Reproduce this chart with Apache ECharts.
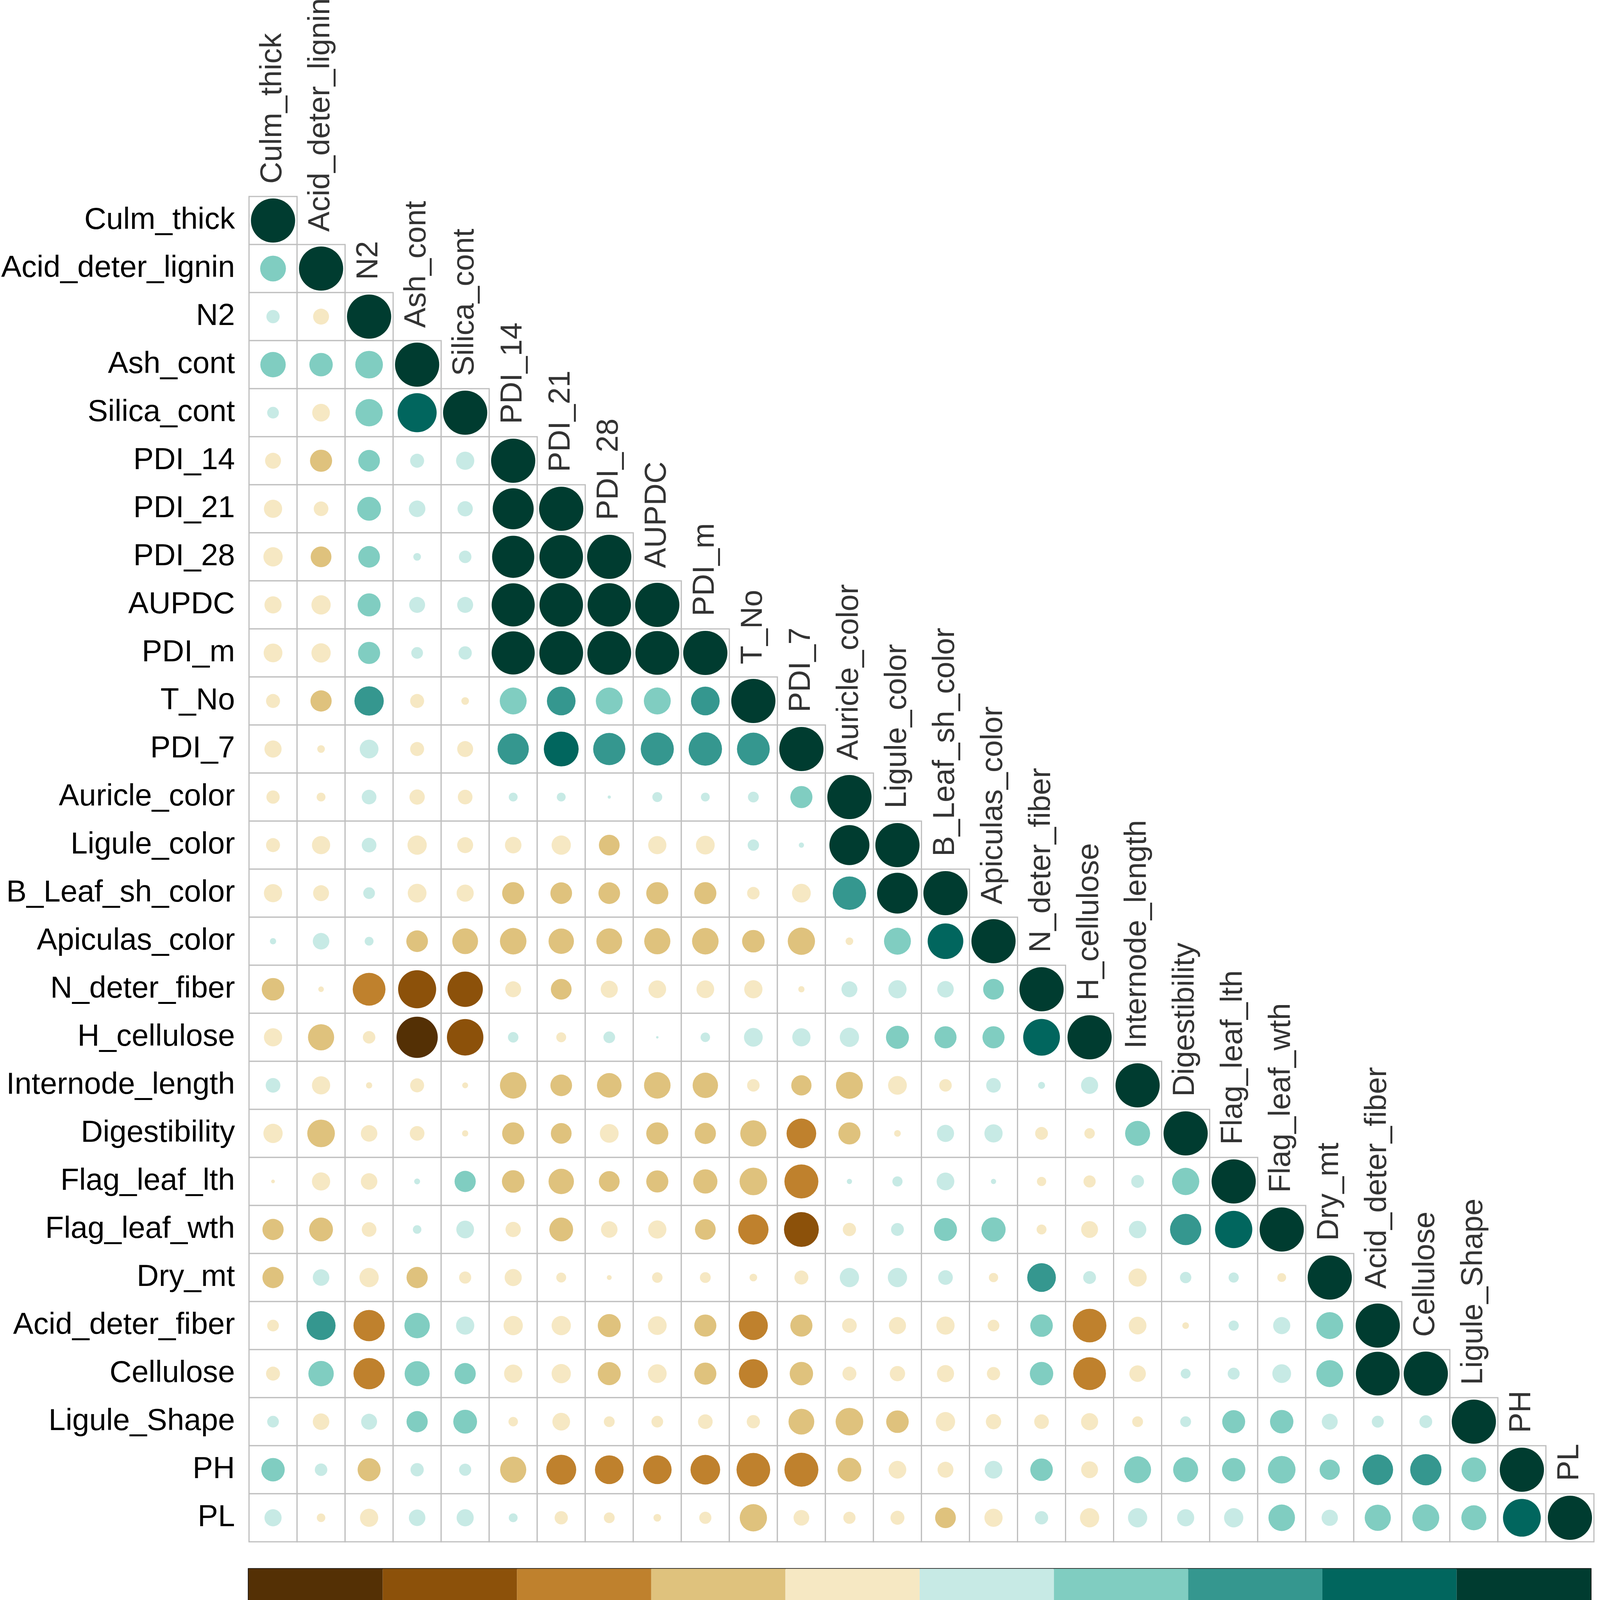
<!DOCTYPE html>
<html lang="en">
  <head>
    <meta charset="UTF-8" />
    <title>Correlation matrix</title>
    <script src="https://cdn.jsdelivr.net/npm/echarts@6/dist/echarts.min.js"></script>
    <style>
      body { margin: 0; background: #fff; }
      #chart { width: 4093px; height: 4261px; }
    </style>
  </head>
  <body>
    <div id="chart"></div>
    <script>
      // variable order, top to bottom / left to right
      const varNames = [
        "Culm_thick", "Acid_deter_lignin", "N2", "Ash_cont", "Silica_cont",
        "PDI_14", "PDI_21", "PDI_28", "AUPDC", "PDI_m", "T_No", "PDI_7",
        "Auricle_color", "Ligule_color", "B_Leaf_sh_color", "Apiculas_color",
        "N_deter_fiber", "H_cellulose", "Internode_length", "Digestibility",
        "Flag_leaf_lth", "Flag_leaf_wth", "Dry_mt", "Acid_deter_fiber",
        "Cellulose", "Ligule_Shape", "PH", "PL"
      ];

      // lower triangle, row i holds r with columns 0..i-1 (diagonal is 1)
      const corrLower = [
        [],
        [0.34],
        [0.09, -0.13],
        [0.33, 0.28, 0.39],
        [0.07, -0.16, 0.38, 0.78],
        [-0.13, -0.25, 0.24, 0.10, 0.17],
        [-0.17, -0.11, 0.29, 0.14, 0.12, 0.86],
        [-0.19, -0.22, 0.24, 0.03, 0.08, 0.91, 0.97],
        [-0.15, -0.19, 0.27, 0.13, 0.13, 0.95, 0.97, 0.96],
        [-0.18, -0.19, 0.25, 0.07, 0.09, 0.95, 0.98, 0.98, 0.98],
        [-0.10, -0.23, 0.44, -0.10, -0.03, 0.37, 0.42, 0.37, 0.37, 0.42],
        [-0.15, -0.03, 0.18, -0.10, -0.13, 0.50, 0.62, 0.53, 0.56, 0.57, 0.55],
        [-0.09, -0.04, 0.11, -0.12, -0.11, 0.04, 0.04, 0.005, 0.05, 0.04, 0.06, 0.25],
        [-0.10, -0.17, 0.11, -0.19, -0.13, -0.14, -0.19, -0.22, -0.17, -0.18, 0.066, 0.014, 0.82],
        [-0.17, -0.13, 0.07, -0.18, -0.15, -0.25, -0.24, -0.24, -0.25, -0.25, -0.08, -0.18, 0.57, 0.85],
        [0.02, 0.14, 0.04, -0.24, -0.34, -0.36, -0.33, -0.34, -0.35, -0.36, -0.26, -0.38, -0.03, 0.37, 0.65],
        [-0.26, -0.016, -0.55, -0.74, -0.64, -0.13, -0.22, -0.15, -0.16, -0.16, -0.17, -0.02, 0.13, 0.17, 0.14, 0.22],
        [-0.17, -0.35, -0.08, -0.87, -0.68, 0.056, -0.05, 0.07, 0.003, 0.046, 0.18, 0.17, 0.19, 0.27, 0.25, 0.25, 0.69],
        [0.11, -0.17, -0.02, -0.10, -0.018, -0.36, -0.24, -0.31, -0.36, -0.33, -0.08, -0.21, -0.37, -0.18, -0.08, 0.11, 0.025, 0.15],
        [-0.19, -0.39, -0.14, -0.11, -0.02, -0.25, -0.22, -0.18, -0.25, -0.23, -0.35, -0.45, -0.25, -0.023, 0.15, 0.17, -0.084, -0.056, 0.32],
        [-0.007, -0.17, -0.14, 0.018, 0.23, -0.26, -0.33, -0.22, -0.25, -0.30, -0.39, -0.59, 0.014, 0.053, 0.16, 0.014, -0.044, -0.076, 0.084, 0.38],
        [-0.23, -0.29, -0.11, 0.037, 0.16, -0.12, -0.29, -0.14, -0.17, -0.22, -0.47, -0.62, -0.09, 0.084, 0.27, 0.30, -0.05, -0.146, 0.156, 0.50, 0.71],
        [-0.23, 0.14, -0.19, -0.23, -0.075, -0.15, -0.05, -0.012, -0.056, -0.06, -0.03, -0.10, 0.19, 0.19, 0.11, -0.044, 0.42, 0.084, -0.17, 0.066, 0.053, -0.04],
        [-0.07, 0.43, -0.50, 0.33, 0.17, -0.19, -0.19, -0.27, -0.18, -0.25, -0.43, -0.25, -0.11, -0.15, -0.17, -0.07, 0.26, -0.58, -0.16, -0.023, 0.053, 0.15, 0.37],
        [-0.10, 0.33, -0.50, 0.32, 0.23, -0.17, -0.19, -0.27, -0.18, -0.25, -0.43, -0.28, -0.10, -0.12, -0.15, -0.09, 0.28, -0.55, -0.14, 0.05, 0.073, 0.18, 0.37, 0.98],
        [0.07, -0.14, 0.13, 0.23, 0.29, -0.046, -0.16, -0.06, -0.07, -0.11, -0.09, -0.34, -0.39, -0.26, -0.19, -0.12, -0.11, -0.15, -0.06, 0.06, 0.27, 0.28, 0.13, 0.073, 0.084],
        [0.28, 0.08, -0.27, 0.09, 0.075, -0.35, -0.46, -0.42, -0.42, -0.45, -0.58, -0.59, -0.29, -0.16, -0.13, 0.16, 0.26, -0.146, 0.37, 0.32, 0.28, 0.39, 0.21, 0.48, 0.50, 0.31],
        [0.15, -0.037, -0.17, 0.14, 0.15, 0.04, -0.09, -0.06, -0.03, -0.075, -0.38, -0.126, -0.076, -0.10, -0.22, -0.17, 0.09, -0.19, 0.19, 0.15, 0.19, 0.36, 0.136, 0.35, 0.37, 0.32, 0.73]
      ];

      // colour key: bin edges and BrBG colours
      const breaks = [-1, -0.8, -0.6, -0.4, -0.2, 0, 0.2, 0.4, 0.6, 0.8, 1];
      const palette = [
        "#543005", "#8c510a", "#bf812d", "#dfc27d", "#f6e8c3",
        "#c7eae5", "#80cdc1", "#35978f", "#01665e", "#003c30"
      ];

      const n = varNames.length;
      const cell = 123; // px per cell
      const font = "Liberation Sans, Arial, sans-serif";

      let cells = [];
      let points = [];
      for (let i = 0; i < n; i++) {
        for (let j = 0; j <= i; j++) {
          const r = j === i ? 1 : corrLower[i][j];
          cells.push([j, i]);
          points.push([j, i, r]);
        }
      }
      const diag = varNames.map((d, k) => [k, k]);

      const pieces = [];
      const keyBlocks = [];
      for (let k = 0; k < palette.length; k++) {
        const p = { gte: breaks[k], color: palette[k] };
        if (k === palette.length - 1) p.lte = breaks[k + 1];
        else p.lt = breaks[k + 1];
        pieces.push(p);
        keyBlocks.push([breaks[k], breaks[k + 1], k]);
      }

      const chart = echarts.init(document.getElementById("chart"), null, {
        renderer: "canvas",
      });

      chart.setOption({
        backgroundColor: "#fff",
        animation: false,
        textStyle: { fontFamily: font },
        grid: [
          { left: 636, top: 503, width: cell * n, height: cell * n },
          {
            left: 636, top: 4016, width: 3446, height: 129,
            show: true, borderColor: "#000", borderWidth: 3,
          },
        ],
        xAxis: [
          {
            type: "category", gridIndex: 0,
            data: varNames,
            axisLine: { show: false }, axisTick: { show: false },
            axisLabel: { show: false }, splitLine: { show: false },
          },
          {
            type: "value", gridIndex: 1,
            min: -1, max: 1, interval: 0.2,
            axisLine: { show: true, lineStyle: { color: "#000", width: 3 } },
            axisTick: { show: true, length: 27, lineStyle: { color: "#000", width: 2 } },
            axisLabel: { fontSize: 64, color: "#000", margin: 52, fontFamily: font },
            splitLine: { show: false },
          },
        ],
        yAxis: [
          {
            type: "category", gridIndex: 0,
            data: varNames, inverse: true,
            axisLine: { show: false }, axisTick: { show: false },
            axisLabel: { fontSize: 78, color: "#000", margin: 36, fontFamily: font },
            splitLine: { show: false },
          },
          {
            type: "value", gridIndex: 1, min: 0, max: 1, show: false,
          },
        ],
        visualMap: {
          type: "piecewise",
          show: false,
          seriesIndex: 1,
          dimension: 2,
          pieces: pieces,
        },
        series: [
          {
            // cell frames of the lower triangle
            type: "custom",
            xAxisIndex: 0, yAxisIndex: 0,
            data: cells,
            z: 1,
            renderItem: function (params, api) {
              const c = api.coord([api.value(0), api.value(1)]);
              const s = api.size([1, 1]);
              return {
                type: "rect",
                shape: { x: c[0] - s[0] / 2, y: c[1] - s[1] / 2, width: s[0], height: s[1] },
                style: { fill: "#fff", stroke: "#bebebe", lineWidth: 3 },
              };
            },
          },
          {
            type: "scatter",
            xAxisIndex: 0, yAxisIndex: 0,
            data: points,
            z: 3,
            symbol: "circle",
            symbolSize: function (v) {
              return 0.92 * cell * Math.sqrt(Math.abs(v[2]));
            },
            itemStyle: { opacity: 1 },
          },
          {
            // column names sitting above the diagonal
            type: "scatter",
            xAxisIndex: 0, yAxisIndex: 0,
            data: diag,
            z: 4,
            symbolSize: 1,
            itemStyle: { color: "rgba(0,0,0,0)" },
            silent: true,
            label: {
              show: true,
              formatter: (p) => varNames[p.data[0]],
              position: "top",
              distance: cell / 2 + 32,
              rotate: 90,
              align: "left",
              verticalAlign: "middle",
              fontSize: 78,
              color: "#000",
              fontFamily: font,
            },
          },
          {
            // colour key
            type: "custom",
            xAxisIndex: 1, yAxisIndex: 1,
            data: keyBlocks,
            z: 2,
            renderItem: function (params, api) {
              const p0 = api.coord([api.value(0), 1]);
              const p1 = api.coord([api.value(1), 0]);
              return {
                type: "rect",
                shape: { x: p0[0], y: p0[1], width: p1[0] - p0[0], height: p1[1] - p0[1] },
                style: { fill: palette[api.value(2)] },
              };
            },
          },
        ],
      });
    </script>
  </body>
</html>
